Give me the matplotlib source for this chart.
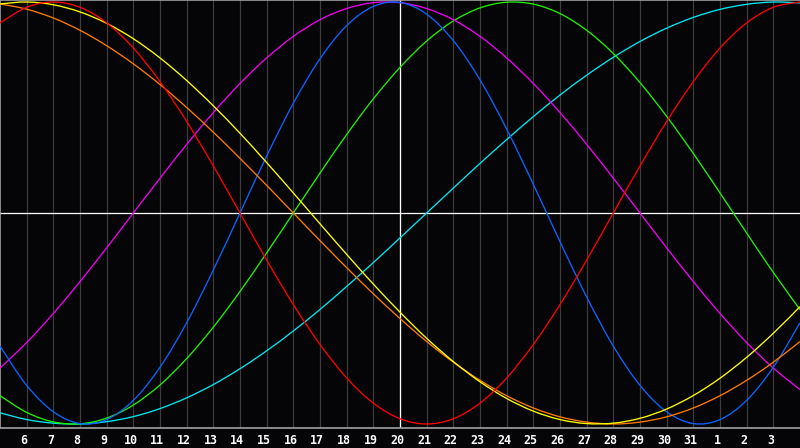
import matplotlib
matplotlib.use("Agg")
import matplotlib.pyplot as plt
from matplotlib.path import Path
from matplotlib.patches import PathPatch
from matplotlib.transforms import ScaledTranslation

# day of month at each vertical grid position (5th .. 4th of next month)
day_labels = [5, 6, 7, 8, 9, 10, 11, 12, 13, 14, 15, 16, 17, 18, 19, 20,
              21, 22, 23, 24, 25, 26, 27, 28, 29, 30, 31, 1, 2, 3, 4]
today_idx = 15

# daily cycle values (-1 .. 1)
physical = [-0.631, -0.817, -0.942, -0.998, -0.979, -0.888, -0.731, -0.520, -0.270, 0.0,
            0.270, 0.520, 0.731, 0.888, 0.979, 0.998, 0.942, 0.817, 0.631, 0.398,
            0.136, -0.136, -0.398, -0.631, -0.817, -0.942, -0.998, -0.979, -0.888, -0.731,
            -0.520]
emotional = [0.901, 0.975, 1.000, 0.975, 0.901, 0.782, 0.623, 0.434, 0.223, 0.0,
             -0.223, -0.434, -0.623, -0.782, -0.901, -0.975, -1.000, -0.975, -0.901, -0.782,
             -0.623, -0.434, -0.223, 0.0, 0.223, 0.434, 0.623, 0.782, 0.901, 0.975,
             1.000]
intellectual = [-0.866, -0.945, -0.990, -0.999, -0.972, -0.910, -0.815, -0.690, -0.541, -0.372,
                -0.189, 0.0, 0.189, 0.372, 0.541, 0.690, 0.815, 0.910, 0.972, 0.999,
                0.990, 0.945, 0.866, 0.756, 0.618, 0.458, 0.282, 0.095, -0.095, -0.282,
                -0.458]
intuitive = [-0.735, -0.614, -0.476, -0.325, -0.165, 0.0, 0.165, 0.325, 0.476, 0.614,
             0.735, 0.837, 0.916, 0.969, 0.997, 0.997, 0.969, 0.916, 0.837, 0.735,
             0.614, 0.476, 0.325, 0.165, 0.0, -0.165, -0.325, -0.476, -0.614, -0.735,
             -0.837]
aesthetic = [0.991, 1.000, 0.987, 0.953, 0.899, 0.826, 0.735, 0.628, 0.508, 0.378,
             0.239, 0.095, -0.051, -0.196, -0.337, -0.470, -0.594, -0.704, -0.800, -0.879,
             -0.939, -0.979, -0.998, -0.996, -0.973, -0.929, -0.865, -0.783, -0.684, -0.570,
             -0.444]
awareness = [0.991, 0.966, 0.924, 0.866, 0.793, 0.707, 0.609, 0.500, 0.383, 0.259,
             0.131, 0.0, -0.131, -0.259, -0.383, -0.500, -0.609, -0.707, -0.793, -0.866,
             -0.924, -0.966, -0.991, -1.000, -0.991, -0.966, -0.924, -0.866, -0.793, -0.707,
             -0.609]
spiritual = [-0.947, -0.979, -0.996, -1.000, -0.989, -0.965, -0.927, -0.876, -0.813, -0.738,
             -0.653, -0.559, -0.457, -0.348, -0.235, -0.118, 0.0, 0.118, 0.235, 0.348,
             0.457, 0.559, 0.653, 0.738, 0.813, 0.876, 0.927, 0.965, 0.989, 1.000,
             0.996]

series = [
    (spiritual, "#00e8f0"),
    (intellectual, "#20f000"),
    (intuitive, "#f000f0"),
    (physical, "#0a64ff"),
    (awareness, "#ff7a00"),
    (aesthetic, "#ffff00"),
    (emotional, "#ff0000"),
]

BG = "#050508"


def smooth_path(xs, ys):
    # cubic bezier through the daily points (catmull-rom style handles)
    n = len(xs)
    verts = [(xs[0], ys[0])]
    codes = [Path.MOVETO]
    for i in range(n - 1):
        i0 = max(i - 1, 0)
        i3 = min(i + 2, n - 1)
        c1 = (xs[i] + (xs[i + 1] - xs[i0]) / 6, ys[i] + (ys[i + 1] - ys[i0]) / 6)
        c2 = (xs[i + 1] - (xs[i3] - xs[i]) / 6, ys[i + 1] - (ys[i3] - ys[i]) / 6)
        verts += [c1, c2, (xs[i + 1], ys[i + 1])]
        codes += [Path.CURVE4] * 3
    return Path(verts, codes)


fig = plt.figure(figsize=(8, 4.48), dpi=100, facecolor=BG)
ax = fig.add_axes([0, 20 / 448, 1, 428 / 448])
ax.set_facecolor(BG)

x = list(range(len(day_labels)))
n_last = len(day_labels) - 1

for i in range(1, n_last):
    ax.axvline(i, color="#3c3c3c", lw=0.9, zorder=1)
ax.axvline(today_idx, color="white", lw=0.9, zorder=2)
ax.axhline(0, color="white", lw=0.9, zorder=2)

for vals, col in series:
    ax.add_patch(PathPatch(smooth_path(x, vals), fill=False, edgecolor=col,
                           lw=0.95, zorder=3))

ax.set_xlim(0, n_last)
ax.set_ylim(-215 / 211, 213 / 211)

ax.set_xticks(x[1:-1])
ax.set_xticklabels([str(d) for d in day_labels[1:-1]])
ax.set_yticks([])
ax.tick_params(axis="x", length=0, pad=4.5, colors="white")
for lab in ax.get_xticklabels():
    lab.set_fontfamily("DejaVu Sans Mono")
    lab.set_fontweight("bold")
    lab.set_fontsize(8.4)
    lab.set_transform(lab.get_transform() + ScaledTranslation(-2 / 72, 0, fig.dpi_scale_trans))

for side in ["left", "top", "bottom"]:
    ax.spines[side].set_color("#a0a0a0")
    ax.spines[side].set_linewidth(1.2)
ax.spines["right"].set_visible(False)

fig.savefig("out.png", dpi=100, facecolor=BG)
